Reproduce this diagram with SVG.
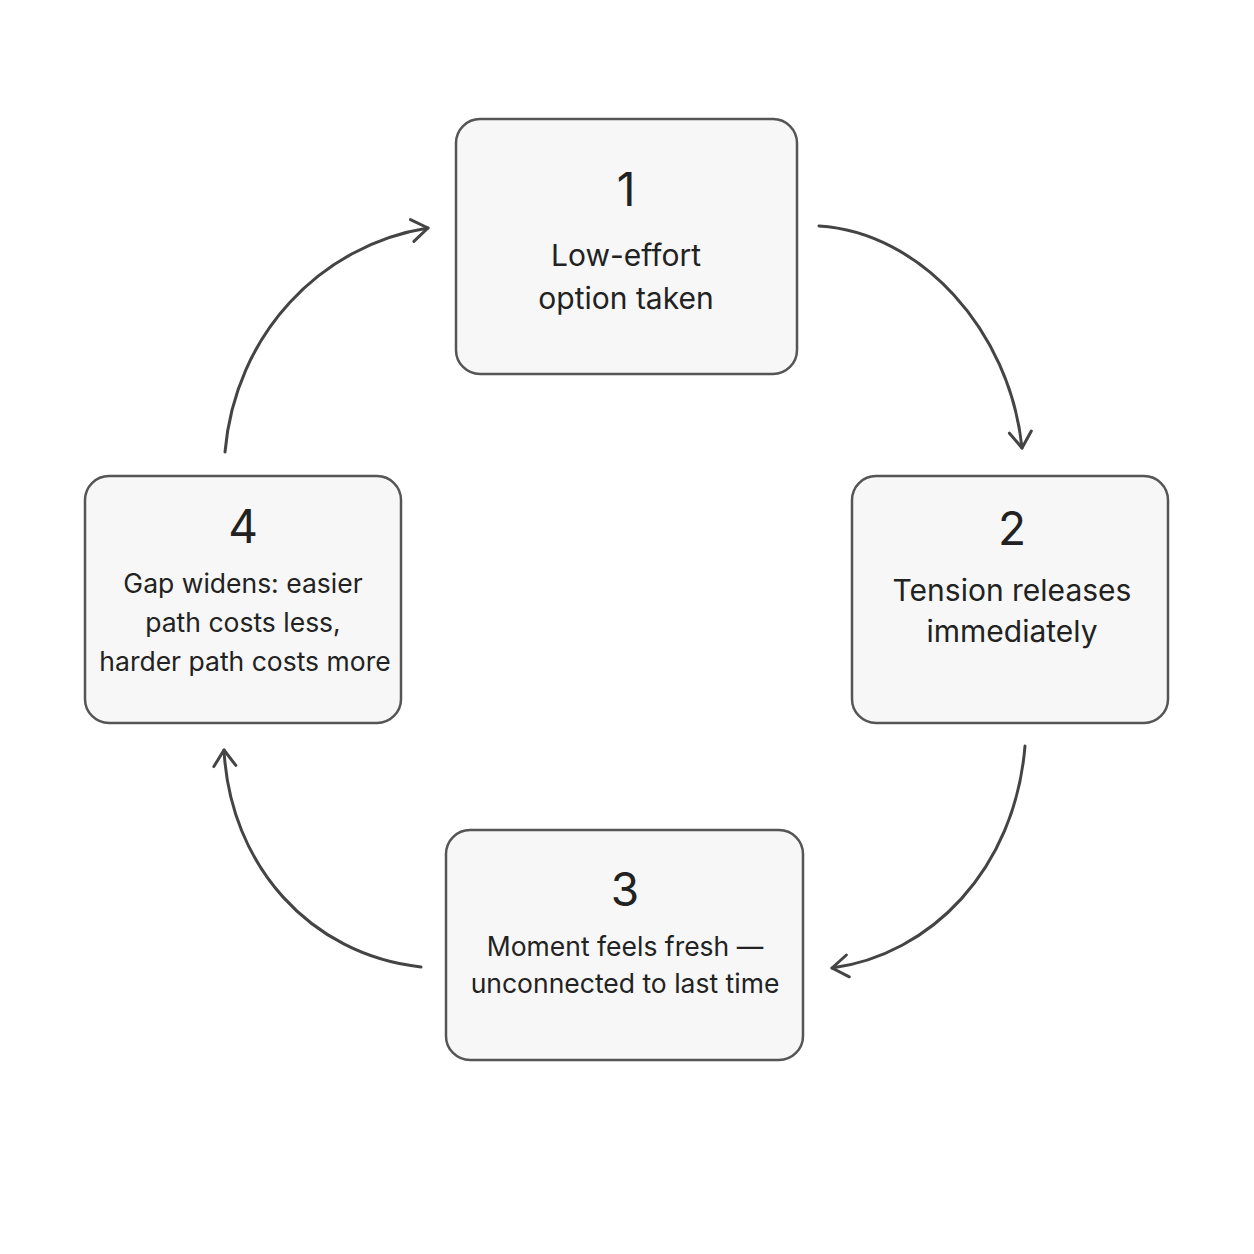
<svg xmlns="http://www.w3.org/2000/svg" width="1254" height="1254" viewBox="0 0 1254 1254">
<style>
.box{fill:#f7f7f7;stroke:#555;stroke-width:2.5}
.num{font-family:Inter,"Liberation Sans",sans-serif;font-size:46px;fill:#222;text-anchor:middle}
.lbl{font-family:Inter,"Liberation Sans",sans-serif;font-size:30px;fill:#222;text-anchor:middle}
.sm{font-size:26.5px}
.c{fill:none;stroke:#444;stroke-width:3;stroke-linecap:round}
</style>
<defs>
<marker id="ah" viewBox="0 0 26 26" refX="21" refY="13" markerWidth="26" markerHeight="26" markerUnits="userSpaceOnUse" orient="auto">
<path d="M5,2 L21,13 L5,24" fill="none" stroke="#444" stroke-width="3" stroke-linecap="round" stroke-linejoin="round"/>
</marker>
</defs>
<rect width="1254" height="1254" fill="#fff"/>
<g id="n1"><rect class="box" x="456" y="119" width="341" height="255" rx="24"/>
<text class="num" x="626" y="206">1</text>
<text class="lbl" x="626" y="266">Low-effort</text><text class="lbl" x="626" y="309">option taken</text></g>
<g id="n2"><rect class="box" x="852" y="476" width="316" height="247" rx="24"/>
<text class="num" x="1012" y="545">2</text>
<text class="lbl" x="1012" y="601">Tension releases</text><text class="lbl" x="1012" y="642">immediately</text></g>
<g id="n3"><rect class="box" x="446" y="830" width="357" height="230" rx="24"/>
<text class="num" x="625" y="906">3</text>
<text class="lbl sm" x="625" y="956">Moment feels fresh —</text><text class="lbl sm" x="625" y="993">unconnected to last time</text></g>
<g id="n4"><rect class="box" x="85" y="476" width="316" height="247" rx="24"/>
<text class="num" x="243" y="543">4</text>
<text class="lbl sm" x="243" y="593">Gap widens: easier</text><text class="lbl sm" x="243" y="632">path costs less,</text><text class="lbl sm" x="245" y="671">harder path costs more</text></g>
<g id="connectors">
<path class="c" marker-end="url(#ah)" d="M819,226 C920,232 1010,330 1022,448"/>
<path class="c" marker-end="url(#ah)" d="M1025,746 C1015,870 930,955 832,968"/>
<path class="c" marker-end="url(#ah)" d="M421,967 C310,955 230,865 224,750"/>
<path class="c" marker-end="url(#ah)" d="M225,452 C235,335 320,245 428,228"/>
</g>
</svg>
